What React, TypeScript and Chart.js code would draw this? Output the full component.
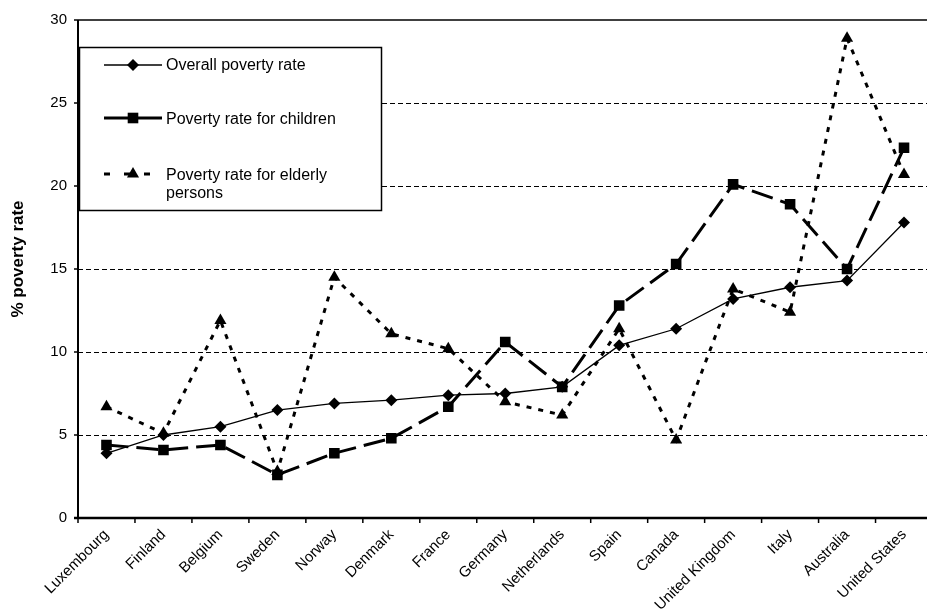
import React, { useEffect, useRef } from "react";
import { Chart, registerables } from "chart.js";

Chart.register(...registerables);

const countries = [
  "Luxembourg", "Finland", "Belgium", "Sweden", "Norway", "Denmark", "France",
  "Germany", "Netherlands", "Spain", "Canada", "United Kingdom", "Italy",
  "Australia", "United States",
];
const overallRate = [3.9, 5.0, 5.5, 6.5, 6.9, 7.1, 7.4, 7.5, 7.9, 10.4, 11.4, 13.2, 13.9, 14.3, 17.8];
const childrenRate = [4.4, 4.1, 4.4, 2.6, 3.9, 4.8, 6.7, 10.6, 7.9, 12.8, 15.3, 20.1, 18.9, 15.0, 22.3];
const elderlyRate = [6.7, 5.1, 11.9, 2.8, 14.5, 11.1, 10.2, 7.0, 6.2, 11.4, 4.7, 13.8, 12.4, 28.9, 20.7];
const yTicks = [0, 5, 10, 15, 20, 25, 30];
const seriesNames = ["Overall poverty rate", "Poverty rate for children", "Poverty rate for elderly persons"];
const yTitle = "% poverty rate";

const FONT = "'Liberation Sans', Arial, sans-serif";

function drawMarker(ctx: CanvasRenderingContext2D, style: string, r: number, x: number, y: number) {
  ctx.beginPath();
  if (style === "rectRot") {
    ctx.moveTo(x - r, y);
    ctx.lineTo(x, y - r);
    ctx.lineTo(x + r, y);
    ctx.lineTo(x, y + r);
  } else if (style === "rect") {
    const s = r * Math.SQRT1_2;
    ctx.rect(x - s, y - s, 2 * s, 2 * s);
  } else {
    const a = (Math.PI * 2) / 3;
    ctx.moveTo(x, y - r);
    ctx.lineTo(x + Math.sin(a) * r, y - Math.cos(a) * r);
    ctx.lineTo(x - Math.sin(a) * r, y - Math.cos(a) * r);
  }
  ctx.closePath();
  ctx.fill();
}

const framePlugin = {
  id: "frame",
  beforeDatasetsDraw(chart: any) {
    const { ctx, chartArea } = chart;
    const y = chart.scales.y;
    const { left, right, top, bottom } = chartArea;
    ctx.save();
    ctx.strokeStyle = "#000";
    ctx.lineWidth = 1;
    ctx.setLineDash([5, 3]);
    for (const v of yTicks) {
      if (v === 0 || v === 30) continue;
      const py = Math.round(y.getPixelForValue(v)) + 0.5;
      ctx.beginPath();
      ctx.moveTo(left, py);
      ctx.lineTo(right, py);
      ctx.stroke();
    }
    ctx.setLineDash([]);
    ctx.lineWidth = 1.5;
    ctx.beginPath();
    ctx.moveTo(left, top);
    ctx.lineTo(right, top);
    ctx.stroke();
    for (const v of yTicks) {
      const py = y.getPixelForValue(v);
      ctx.beginPath();
      ctx.moveTo(left - 4, py);
      ctx.lineTo(left, py);
      ctx.stroke();
    }
    const n = countries.length;
    const step = (right - left) / n;
    for (let i = 0; i <= n; i++) {
      const px = left + i * step;
      ctx.beginPath();
      ctx.moveTo(px, bottom);
      ctx.lineTo(px, bottom + 5);
      ctx.stroke();
    }
    ctx.lineWidth = 2;
    ctx.beginPath();
    ctx.moveTo(left, top);
    ctx.lineTo(left, bottom);
    ctx.stroke();
    ctx.lineWidth = 2.5;
    ctx.beginPath();
    ctx.moveTo(left - 4, bottom);
    ctx.lineTo(right, bottom);
    ctx.stroke();
    ctx.fillStyle = "#000";
    ctx.font = `bold 17px ${FONT}`;
    ctx.textAlign = "center";
    ctx.textBaseline = "middle";
    ctx.translate(18, 259);
    ctx.rotate(-Math.PI / 2);
    ctx.fillText(yTitle, 0, 0);
    ctx.restore();
  },
  afterDraw(chart: any) {
    const { ctx, chartArea } = chart;
    const bx = chartArea.left + 1;
    const by = 47;
    const bw = 302;
    const bh = 163;
    ctx.save();
    ctx.fillStyle = "#fff";
    ctx.fillRect(bx, by, bw, bh);
    ctx.strokeStyle = "#000";
    ctx.lineWidth = 1.5;
    ctx.strokeRect(bx + 0.5, by + 0.5, bw, bh);
    const sx0 = 104, sx1 = 162, mx = 133;
    const ds = chart.data.datasets;
    const rows = [65, 118, 174];
    ctx.lineWidth = 1.3;
    ctx.beginPath();
    ctx.moveTo(sx0, rows[0]);
    ctx.lineTo(sx1, rows[0]);
    ctx.stroke();
    ctx.lineWidth = 3;
    ctx.beginPath();
    ctx.moveTo(sx0, rows[1]);
    ctx.lineTo(sx1, rows[1]);
    ctx.stroke();
    ctx.setLineDash([6, 14]);
    ctx.beginPath();
    ctx.moveTo(sx0, rows[2]);
    ctx.lineTo(sx1, rows[2]);
    ctx.stroke();
    ctx.setLineDash([]);
    const styles = ["rectRot", "rect", "triangle"];
    ctx.fillStyle = "#000";
    for (let i = 0; i < 3; i++) {
      drawMarker(ctx, styles[i], ds[i].pointRadius, mx, rows[i]);
    }
    ctx.font = `16px ${FONT}`;
    ctx.textAlign = "left";
    ctx.textBaseline = "middle";
    ctx.fillText(seriesNames[0], 166, rows[0] + 1);
    ctx.fillText(seriesNames[1], 166, rows[1] + 2);
    ctx.fillText("Poverty rate for elderly", 166, rows[2] + 2);
    ctx.fillText("persons", 166, rows[2] + 20);
    ctx.restore();
  },
};

export default function App() {
  const ref = useRef<HTMLCanvasElement | null>(null);
  useEffect(() => {
    if (!ref.current) return;
    const chart = new Chart(ref.current, {
      type: "line",
      data: {
        labels: countries,
        datasets: [
          {
            label: seriesNames[0],
            data: overallRate,
            borderColor: "#000",
            backgroundColor: "#000",
            borderWidth: 1.3,
            pointStyle: "rectRot",
            pointRadius: 6,
            pointBorderWidth: 0,
            tension: 0,
            order: 1,
          },
          {
            label: seriesNames[1],
            data: childrenRate,
            borderColor: "#000",
            backgroundColor: "#000",
            borderWidth: 3,
            borderDash: [22, 8],
            pointStyle: "rect",
            pointRadius: 7.5,
            pointBorderWidth: 0,
            tension: 0,
            order: 2,
          },
          {
            label: seriesNames[2],
            data: elderlyRate,
            borderColor: "#000",
            backgroundColor: "#000",
            borderWidth: 3,
            borderDash: [5, 7],
            pointStyle: "triangle",
            pointRadius: 7,
            pointBorderWidth: 0,
            tension: 0,
            order: 3,
          },
        ],
      },
      options: {
        animation: false,
        responsive: false,
        layout: { padding: { left: 0, top: 18, right: 5, bottom: 0 } },
        plugins: { legend: { display: false }, tooltip: { enabled: false } },
        scales: {
          x: {
            offset: true,
            grid: { display: false, drawTicks: false },
            border: { display: false },
            ticks: {
              color: "#000",
              font: { family: FONT, size: 15 },
              minRotation: 45,
              maxRotation: 45,
              padding: 8,
              autoSkip: false,
            },
            afterFit: (s: any) => {
              s.height = 95;
            },
          },
          y: {
            min: 0,
            max: 30,
            grid: { display: false, drawTicks: false },
            border: { display: false },
            ticks: {
              stepSize: 5,
              color: "#000",
              font: { family: FONT, size: 15 },
              padding: 11,
            },
            afterFit: (s: any) => {
              s.width = 78;
            },
          },
        },
      },
      plugins: [framePlugin],
    });
    return () => chart.destroy();
  }, []);
  return (
    <div style={{ position: "fixed", left: 0, top: 0, width: 940, height: 613, overflow: "hidden", background: "#fff" }}>
      <canvas ref={ref} width={940} height={613} style={{ width: 940, height: 613, display: "block" }} />
    </div>
  );
}
